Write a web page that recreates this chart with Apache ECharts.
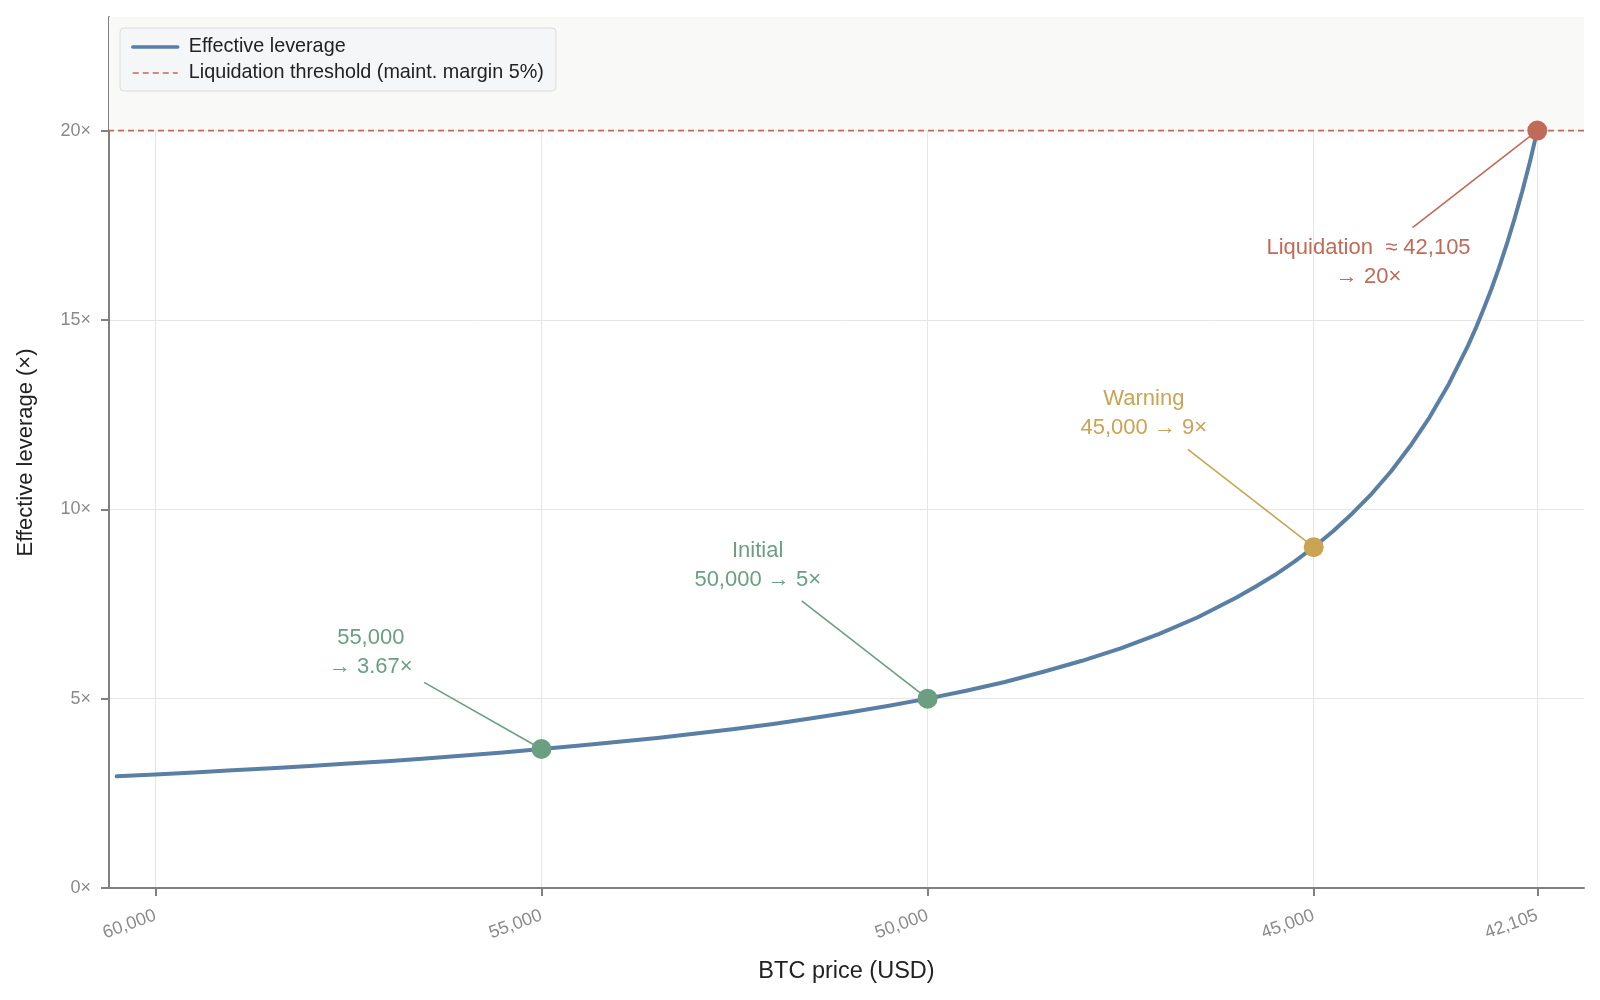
<!DOCTYPE html>
<html lang="en">
<head>
    <meta charset="utf-8">
    <title>Effective leverage vs BTC price</title>
    <script src="https://cdn.jsdelivr.net/npm/echarts@6/dist/echarts.min.js"></script>
    <style>
        html, body { margin: 0; padding: 0; background: #fff; }
    </style>
</head>
<body>

<div id="main" style="width: 1600px;height:1000px;"></div>

<script>
    // curve: BTC price -> effective leverage
    var prices = [60500, 60000, 59500, 59000, 58500, 58000, 57500, 57000, 56500, 56000, 55500, 55000,
        54500, 54000, 53500, 53000, 52500, 52000, 51500, 51000, 50500, 50000, 49500, 49000,
        48500, 48000, 47500, 47000, 46500, 46000, 45750, 45500, 45250, 45000, 44750, 44500,
        44250, 44000, 43750, 43500, 43250, 43000, 42900, 42800, 42700, 42600, 42500, 42400,
        42300, 42200, 42105];
    var leverage = [2.95, 3.0, 3.05, 3.11, 3.16, 3.22, 3.29, 3.35, 3.42, 3.5, 3.58, 3.67,
        3.76, 3.86, 3.96, 4.08, 4.2, 4.33, 4.48, 4.64, 4.81, 5.0, 5.21, 5.44,
        5.71, 6.0, 6.33, 6.71, 7.15, 7.67, 7.96, 8.27, 8.62, 9.0, 9.42, 9.89,
        10.41, 11.0, 11.67, 12.43, 13.31, 14.33, 14.79, 15.29, 15.81, 16.38, 17.0, 17.67,
        18.39, 19.18, 20.0];

    // highlighted points
    var keyPrices = [55000, 50000, 45000, 42105];
    var keyLeverage = [3.67, 5, 9, 20];
    var keyNames = ['55,000', 'Initial', 'Warning', 'Liquidation'];
    var keyText = [
        '55,000\n→ 3.67×',
        'Initial\n50,000 → 5×',
        'Warning\n45,000 → 9×',
        'Liquidation  ≈ 42,105\n→ 20×'
    ];

    var xTicks = [60000, 55000, 50000, 45000, 42105];
    var yTicks = [0, 5, 10, 15, 20];
    var threshold = 20;

    var xMin = 41500, xMax = 60600, yMax = 23;

    // annotation text anchors and leader-line starts (data coords)
    var textAt = [[57210, 6.23], [52200, 8.53], [47200, 12.52], [44290, 16.52]];
    var leaderFrom = [[56520, 5.43], [51630, 7.58], [46630, 11.58], [43720, 17.44]];
    var keyColors = ['#6a9f82', '#6a9f82', '#c8a453', '#c06a58'];

    var FONT = '"Liberation Sans", Arial, sans-serif';
    var myChart = echarts.init(document.getElementById('main'));

    var curve = prices.map(function (p, i) { return [p, leverage[i]]; });

    var option = {
        animation: false,
        textStyle: {fontFamily: FONT},
        grid: {left: 109, right: 16, top: 17, bottom: 112},
        legend: {
            left: 120, top: 28,
            orient: 'vertical',
            itemGap: 6,
            itemWidth: 45,
            itemHeight: 4,
            padding: [9, 12, 8, 11],
            backgroundColor: '#f5f6f7',
            borderColor: '#dcdcdc',
            borderWidth: 1,
            borderRadius: 4,
            itemStyle: {color: 'rgba(0,0,0,0)', borderWidth: 0},
            textStyle: {fontSize: 19.8, color: '#222', fontFamily: FONT, padding: [0, 0, 0, 6]},
            data: [
                {name: 'Effective leverage', lineStyle: {width: 3.5}},
                {name: 'Liquidation threshold (maint. margin 5%)', lineStyle: {width: 1.6}}
            ]
        },
        xAxis: {
            type: 'value',
            inverse: true,
            min: xMin, max: xMax,
            name: 'BTC price (USD)',
            nameLocation: 'middle',
            nameGap: 72,
            nameTextStyle: {fontSize: 23.5, color: '#222'},
            axisLine: {show: true, onZero: false, lineStyle: {color: '#808080', width: 2}},
            axisTick: {show: true, length: 8, customValues: xTicks, lineStyle: {color: '#808080', width: 2}},
            axisLabel: {
                customValues: xTicks,
                rotate: 20,
                fontSize: 18,
                color: '#8a8a8a',
                margin: 27,
                formatter: function (v) { return Number(v).toLocaleString('en-US'); }
            },
            splitLine: {show: true, lineStyle: {color: '#e6e6e6', width: 1}}
        },
        yAxis: {
            type: 'value',
            min: 0, max: yMax,
            name: 'Effective leverage (×)',
            nameLocation: 'middle',
            nameGap: 72,
            nameTextStyle: {fontSize: 22, color: '#222'},
            axisLine: {show: true, lineStyle: {color: '#808080', width: 2}},
            axisTick: {show: true, length: 8, customValues: yTicks, lineStyle: {color: '#808080', width: 2}},
            axisLabel: {
                customValues: yTicks,
                fontSize: 18,
                color: '#8a8a8a',
                margin: 18,
                formatter: function (v) { return v + '×'; }
            },
            splitLine: {show: true, lineStyle: {color: '#e6e6e6', width: 1}}
        },
        series: [
            {
                name: 'Liquidation threshold (maint. margin 5%)',
                type: 'line',
                symbol: 'none',
                z: 3,
                data: [[xMin, threshold], [xMax, threshold]],
                lineStyle: {color: '#c06a58', width: 1.6, type: [6, 4]},
                itemStyle: {color: '#c06a58'},
                markArea: {
                    silent: true,
                    itemStyle: {color: '#f9f9f8'},
                    data: [[{yAxis: threshold}, {yAxis: yMax}]]
                }
            },
            {
                name: 'Effective leverage',
                type: 'line',
                symbol: 'none',
                smooth: false,
                z: 4,
                data: curve,
                lineStyle: {color: '#5a7fa5', width: 4, join: 'round', cap: 'round'},
                itemStyle: {color: '#5a7fa5'}
            },
            {
                name: 'key points',
                type: 'scatter',
                symbolSize: 20,
                z: 6,
                data: keyPrices.map(function (p, i) {
                    return {name: keyNames[i], value: [p, keyLeverage[i]], itemStyle: {color: keyColors[i], opacity: 1}};
                }),
                markLine: {
                    silent: true,
                    symbol: 'none',
                    label: {show: false},
                    data: keyPrices.map(function (p, i) {
                        return [
                            {coord: leaderFrom[i], lineStyle: {color: keyColors[i], width: 1.6, type: 'solid'}},
                            {coord: [p, keyLeverage[i]]}
                        ];
                    })
                },
                markPoint: {
                    silent: true,
                    symbol: 'circle',
                    symbolSize: 0,
                    data: keyText.map(function (t, i) {
                        return {
                            coord: textAt[i],
                            label: {
                                show: true,
                                position: 'inside',
                                formatter: t,
                                align: 'center',
                                verticalAlign: 'middle',
                                fontSize: 22,
                                lineHeight: 29,
                                color: keyColors[i],
                                fontFamily: FONT
                            }
                        };
                    })
                }
            }
        ]
    };

    myChart.setOption(option);
</script>
</body>
</html>
